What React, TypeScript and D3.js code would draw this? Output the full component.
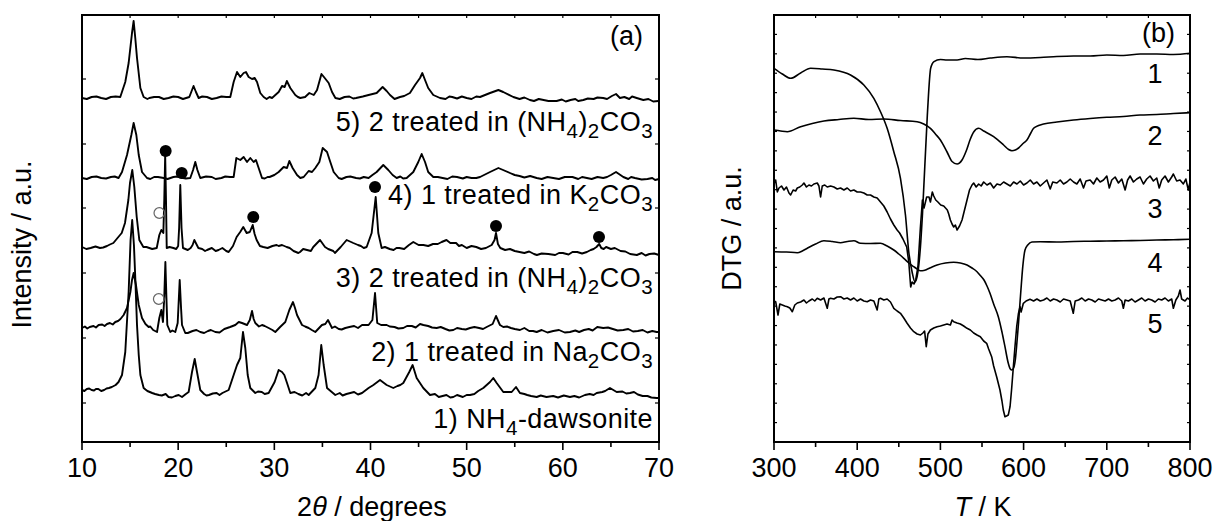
import React from "react";
import * as d3 from "d3";

type P = [number, number];

// ---------- (a) XRD patterns: [2theta, intensity above own baseline] ----------
const xrdOffsets = [52, 114, 194, 264, 344];
const xrdLabels = [
  "1) NH_{4}-dawsonite",
  "2) 1 treated in Na_{2}CO_{3}",
  "3) 2 treated in (NH_{4})_{2}CO_{3}",
  "4) 1 treated in K_{2}CO_{3}",
  "5) 2 treated in (NH_{4})_{2}CO_{3}",
];
const xrd1: P[] = [[10,0],[10.5,1],[11,0],[11.7,1],[12.3,0],[12.8,2],[13.1,3],[13.5,5],[13.8,8],[14.16,15],[14.5,38],[14.85,98],[15.05,150],[15.22,170],[15.4,145],[15.55,110],[15.72,65],[15.9,35],[16.07,15],[16.41,2],[16.8,-1],[17.3,-3],[18,-5],[19,-7],[19.7,-6],[20.4,-7],[20.8,-4],[21.09,-2],[21.44,18],[21.72,31],[21.96,18],[22.3,0],[22.7,-4],[23.2,-5],[24,-3],[24.6,-3],[25.25,0],[25.77,15],[26.12,25],[26.46,32],[26.74,58],[26.98,42],[27.23,15],[27.5,2],[28.02,-3],[28.7,-2],[29.41,-3],[30.03,8],[30.45,20],[30.8,18],[31.04,15],[31.32,7],[31.66,-3],[32.5,-4],[33.57,-5],[34.26,2],[34.6,15],[34.88,45],[35.13,25],[35.48,2],[36.34,-5],[37.5,-4],[38.3,-2],[39.12,-3],[39.8,2],[40.3,5],[40.99,10],[41.68,5],[42.37,2],[43.41,7],[44.03,18],[44.38,25],[44.8,12],[45.49,2],[46.19,-5],[47.5,-6],[48.61,-7],[50.35,-5],[51.2,-1],[51.73,2],[52.43,8],[52.77,12],[53.12,7],[53.81,-2],[54.68,-2],[55.13,3],[55.54,-3],[56.3,-5],[57.28,-7],[59,-6],[60.74,-7],[62.3,-5],[63.52,-3],[64.4,-1],[64.9,2],[65.6,-2],[66.98,-3],[68.3,-6],[69.76,-8],[70,-8],
  [10.25,-1],[10.75,1.5],[11.25,-0.5],[11.45,1],[12.0,-1],[12.55,1.5],[16.6,0.5],[17.05,-2],[17.6,-4],[18.3,-5.5],[18.7,-4],[19.35,-7.5],[20.05,-5],[22.5,-2],[22.95,-5.5],[23.6,-3.5],[24.3,-5],[28.3,-1.5],[29.0,-4],[32.1,-2],[32.9,-5.5],[33.3,-3],[36.8,-3],[37.1,-5.5],[37.9,-3],[38.7,-4.5],[42.8,4],[43.1,5],[46.7,-4],[47.1,-7],[47.9,-5],[48.3,-7.5],[49.0,-5],[49.6,-7],[50.0,-5],[50.8,-4],[56.0,-4],[56.7,-6],[57.7,-5.5],[58.3,-7],[59.5,-7.5],[60.1,-5.5],[61.2,-6],[61.7,-7.5],[62.8,-4],[63.2,-5],[64.1,-2],[66.2,-1.5],[66.6,-3.5],[67.4,-2],[67.8,-4.5],[68.8,-6],[69.2,-7.5]];
const xrd2: P[] = [[10,0],[10.8,1],[11.73,3],[12.6,4],[13.46,6],[14.0,9],[14.33,13],[14.68,20],[15.03,36],[15.2,48],[15.37,55],[15.61,43],[15.9,23],[16.24,10],[16.6,4],[16.93,1],[17.4,-2],[17.8,-4],[18.04,10],[18.25,18],[18.42,6],[18.55,30],[18.67,66],[18.78,30],[18.87,3],[19.18,-4],[19.7,-4],[19.95,5],[20.16,48],[20.3,20],[20.4,3],[20.74,-5],[21.5,-3],[22.3,-4],[23.1,-3],[23.86,-4],[24.8,-1],[25.4,1],[25.94,3],[26.3,6],[26.64,5],[27.16,3],[27.45,8],[27.68,17],[27.85,9],[28.02,5],[28.72,3],[29.41,0],[30.1,-4],[30.6,1],[31.14,6],[31.56,18],[31.94,26],[32.15,20],[32.36,13],[32.88,3],[33.57,0],[34.26,-4],[34.95,3],[35.3,4],[35.58,8],[36.0,0],[36.7,-1],[37.38,0],[38.3,2],[39.12,3],[39.8,3],[40.2,8],[40.47,35],[40.7,5],[41.1,3],[41.68,3],[42.5,1],[43.41,0],[44.3,2],[45.15,4],[46.0,2],[46.88,0],[47.8,-1],[48.61,-2],[49.5,-1],[50.35,0],[51.3,0],[52.08,1],[52.7,4],[53.05,12],[53.46,3],[53.81,1],[54.6,0],[55.54,-2],[56.5,-3],[57.28,-4],[59,-3],[60.74,-4],[62.2,-2],[63.58,1],[64.2,0],[65.2,-1],[66.29,-2],[67.8,-3],[69.76,-4],[70,-4],
  [10.3,1.5],[10.55,-0.5],[11.2,2],[11.45,0.5],[12.1,3.5],[12.35,2],[12.9,5],[13.2,3.5],[13.75,7],[17.1,1.5],[17.6,-3],[19.4,-2.5],[21.0,-5],[21.9,-2],[22.7,-5],[23.4,-2],[24.3,-4.5],[28.4,1.5],[29.0,2],[29.8,-2],[33.2,1.5],[33.9,-2],[36.3,1.5],[37.0,-1.5],[37.8,1],[38.7,0],[42.0,1.5],[42.9,-0.5],[43.8,2],[44.7,0.5],[45.5,3],[46.4,0.5],[47.3,1],[48.2,-2.5],[49.0,0],[49.9,-1.5],[50.8,1],[51.7,-1],[54.2,1.5],[55.0,-1],[56.0,0],[56.9,-3],[57.8,-2],[58.4,-4.5],[59.6,-2],[60.2,-4.5],[61.3,-2.5],[61.7,-4],[62.7,-1],[63.1,-2.5],[64.7,0.5],[65.7,-2.5],[66.8,-1],[67.3,-3.5],[68.3,-2],[68.8,-4.5],[69.3,-3]];
const xrd3: P[] = [[10,1],[10.9,0],[11.87,0],[12.6,2],[13.26,5],[13.78,11],[14.13,15],[14.47,25],[14.82,48],[14.99,65],[15.23,78],[15.44,61],[15.69,31],[15.96,8],[16.38,1],[17.0,0],[17.77,0],[18.04,13],[18.25,18],[18.46,15],[18.56,50],[18.65,93],[18.74,45],[18.81,0],[19.5,0],[20.0,2],[20.1,20],[20.22,63],[20.35,20],[20.5,0],[21.0,-2],[21.3,0],[21.68,8],[22.1,0],[23.0,-2],[24.2,-2],[25.25,-4],[25.7,2],[26.08,11],[26.45,16],[26.77,21],[27.12,15],[27.45,16],[27.75,23],[27.95,14],[28.16,8],[28.85,1],[29.8,2],[30.24,3],[30.45,2],[31.28,1],[32.0,-3],[32.5,-5],[32.67,-4],[33.4,-2],[34.05,1],[34.75,8],[35.27,1],[36.13,-3],[36.3,-5],[36.9,1],[37.52,8],[38.21,5],[39.0,2],[39.6,1],[40.12,15],[40.54,51],[40.81,15],[41.16,0],[42.0,-1],[43.0,0],[44.0,3],[44.45,6],[45.0,3],[45.5,3],[46.5,4],[47.4,6],[47.9,8],[48.3,5],[48.9,5],[49.5,3],[50.0,0],[51.0,1],[52.0,0],[52.6,3],[52.9,8],[53.05,15],[53.25,4],[53.5,0],[54.0,-2],[55.0,-3],[56.0,-5],[57.3,-7],[58.5,-6],[60.0,-5],[61.5,-4],[62.5,-4],[63.5,1],[63.78,4],[64.0,0],[64.5,1],[65.0,-1],[66.0,-3],[67.7,-7],[69.0,-6],[70,-7],
  [10.45,-1],[11.4,1.5],[12.2,0.5],[12.9,3.5],[16.7,1],[17.3,-1],[19.1,1],[19.8,-1],[21.5,3],[22.5,-1],[22.8,-3],[23.5,0],[23.9,-3],[24.6,0],[25.0,-3],[28.5,2],[29.3,0],[30.8,3],[31.6,0],[33.0,-1],[33.8,-3],[35.6,-1],[36.6,-2],[38.7,3],[39.3,0],[41.5,1],[42.4,-2],[42.7,0],[43.5,-1],[46.0,2],[47.0,4],[49.2,2],[50.5,2],[51.5,-1],[54.5,-1],[55.5,-4],[56.5,-3.5],[57.0,-6],[57.8,-5.5],[59.2,-7],[59.6,-5],[60.6,-6.5],[61.0,-4],[62.0,-5.5],[62.9,-2],[63.2,-1],[64.25,-1],[65.4,0],[66.5,-3.5],[67.0,-6],[68.2,-5],[68.6,-7.5],[69.5,-5.5]];
const xrd4: P[] = [[10,0],[11,1],[12,0],[13,1],[13.8,0],[14.16,6],[14.68,23],[15.13,43],[15.37,55],[15.65,43],[15.9,23],[16.24,6],[16.76,0],[17.5,1],[18.5,0],[19.5,1],[20.5,0],[21.26,0],[21.55,8],[21.78,16],[22.0,8],[22.3,0],[23.5,1],[24.5,0],[25.4,1],[25.77,1],[26.05,20],[26.46,18],[26.81,21],[27.16,16],[27.5,20],[27.85,16],[28.09,18],[28.37,10],[28.72,0],[29.5,1],[30.0,3],[30.45,6],[30.97,11],[31.32,10],[31.56,17],[31.9,10],[32.36,3],[33.05,1],[33.57,7],[33.92,6],[34.26,10],[34.68,16],[35.03,30],[35.48,26],[35.82,16],[36.17,6],[36.69,0],[37.5,1],[38.5,0],[39.8,0],[40.2,3],[40.64,6],[41.33,13],[41.85,8],[42.3,3],[42.72,0],[43.76,0],[44.45,6],[44.97,16],[45.32,24],[45.67,16],[46.0,6],[46.53,1],[47.5,0],[49,1],[50.5,0],[51.39,1],[52.43,6],[53.3,10],[54.5,5],[55.5,2],[57.28,0],[59,0],[61,1],[62.5,0],[64.2,0],[65.0,3],[65.53,6],[66.29,1],[67.5,0],[68.8,-1],[70,-1],
  [10.5,-1],[11.5,1.5],[12.5,-0.5],[13.4,1.5],[17.1,-1],[17.9,1],[18.9,-1],[19.9,1.5],[20.8,-0.5],[22.9,1.5],[23.9,-1],[24.9,1.5],[29.0,-0.5],[29.3,1],[32.7,0],[37.0,-1],[37.9,1.5],[38.9,-0.5],[39.3,1],[43.1,1.5],[43.4,-0.5],[47.0,1],[48.0,-1],[48.5,1.5],[49.6,-0.5],[50.0,1],[51.0,0],[55.0,3],[56.0,0.5],[56.6,2],[57.8,-1],[58.4,1],[59.6,-1],[60.2,1],[61.6,-1],[62.0,1],[63.0,-1],[63.6,1],[64.6,1],[66.8,-1],[67.1,1],[68.2,-1.5],[69.3,0],[69.6,-2]];
const xrd5: P[] = [[10,0],[11,1],[12,0],[13,1],[13.98,1],[14.5,16],[14.85,35],[15.2,65],[15.37,77],[15.54,60],[15.72,40],[16.07,10],[16.41,1],[17,0],[18,1],[19,0],[20,1],[21.16,1],[21.6,12],[21.85,6],[22.13,0],[23,1],[24,0],[25,1],[25.42,1],[25.77,16],[26.12,26],[26.46,21],[26.81,25],[27.05,26],[27.33,21],[27.68,19],[27.96,20],[28.2,16],[28.54,5],[28.89,1],[29.76,0],[30.45,6],[30.8,12],[31.08,11],[31.3,17],[31.66,10],[32.18,3],[32.7,0],[33.2,1],[33.64,5],[34.1,3],[34.44,8],[34.9,24],[35.24,20],[35.65,15],[36.0,6],[36.35,0],[37.3,1],[38.5,0],[39.8,3],[40.64,5],[41.26,11],[41.68,7],[42.03,3],[43.07,1],[44.1,5],[44.63,13],[45.15,20],[45.39,25],[45.67,18],[46.0,10],[46.53,3],[47.23,0],[48.5,1],[50,0],[51.39,1],[52.43,5],[53.3,8],[53.8,6],[54.85,1],[56.58,-2],[58,-2],[59.36,-3],[60.8,-2],[62.13,-2],[63.2,-1],[64.2,0],[65.1,2],[65.53,4],[65.94,0],[67.68,0],[68.37,-2],[69.93,-3],[70,-3],
  [10.5,-1],[11.5,1.5],[12.5,-1],[13.5,1.5],[16.8,-1],[17.5,1],[18.5,-1],[19.5,1.5],[20.5,-1],[22.5,1.5],[23.5,-1],[24.5,1.5],[29.2,-1],[29.5,1],[32.45,1],[36.8,-1],[37.8,1.5],[38.2,-0.5],[39.2,1.5],[42.5,-1],[43.5,2],[47.8,-1],[48.2,1.5],[49.0,-0.5],[49.5,1.5],[50.5,-1],[51.0,1.5],[55.5,-1],[56.0,0.5],[57.0,-3],[57.5,-1],[58.5,-3],[59.9,-1.5],[60.3,-3.5],[61.3,-1],[61.6,-3],[62.6,-0.5],[63.6,0.5],[64.6,-1],[66.4,1],[66.9,-1],[67.2,1.5],[68.9,-1],[69.4,-3.5]];
const xrdSeries = [xrd1, xrd2, xrd3, xrd4, xrd5];

// markers: filled = reflections marked on pattern 3, open = extra reflection
const filledMarks: P[] = [[18.7,291],[20.37,269],[27.81,225],[40.47,255],[53.05,216],[63.76,205]];
const openMarks: P[] = [[18.04,229],[17.98,143]];

// ---------- (b) DTG curves: [T/K, DTG a.u.] ----------
const dtg1: P[] = [[300,373.7],[310,368],[320,363.7],[332,369],[344,373.7],[358,373],[372,372],[392,367],[408,357],[420,343.7],[428,330.3],[436,313.7],[444,290.3],[452,263.7],[458,227],[462,190],[466,170],[469.5,160],[473,170],[476,195],[478.4,227],[484.3,327],[488.3,373.7],[492.3,380.3],[500,382.5],[508,382],[520,382],[530,383.5],[545,382.5],[560,384],[580,385.3],[600,384],[620,384.5],[640,385.5],[660,386],[680,386],[700,387],[720,386.5],[740,388],[760,388],[780,387.5],[800,388.7]];
const dtg2: P[] = [[300,312],[308,311],[316,310.3],[332,315.3],[346,318.5],[360,321],[378,322.5],[396,323.7],[414,322.5],[432,323],[452,321.5],[472,320.3],[480,318],[488,313.7],[494,308],[500,302],[508,290],[514,280.5],[520,278],[526,282],[531,291],[536,303],[540,310],[546,313.7],[552,311],[564,305.3],[576,297],[582,292.5],[586,291.3],[590,292],[594,294],[600,299],[604,302],[608,308],[612,313.7],[618,316.5],[624,318],[640,320],[660,322],[680,323.5],[700,324.7],[720,325.5],[740,327],[760,327.5],[780,328.5],[800,329.3]];
const dtg3: P[] = [[300,258],[302,262],[304,250],[306,254],[309,256],[312,252],[315,255],[318,249],[320,247],[323,252],[326,251],[328,254],[331,255],[334,257],[336,259],[339,255],[342,257],[345,256],[348,258],[352,259],[354,256],[356,245],[358,256],[361,257],[364,255],[368,256],[372,255],[376,253],[380,254],[384,252],[388,254],[392,251],[396,252],[400,250],[404,250],[408,249],[412,247],[416,247],[420,245],[424,244],[428,240],[432,236],[436,230],[440,223],[444,217],[448,212],[451,209],[455,203],[459.5,195],[462,180],[464.3,155],[466,160],[468.3,158],[470.3,162],[473,175],[476,215],[478.4,242],[480.3,234],[483.5,245],[486.3,245],[488,240],[490.3,250],[492,246],[494.4,242],[497,240],[500.4,237],[504,236],[508.3,232],[510,228],[512,222],[514,218],[516,215],[518,217],[520,212],[523,216],[526,222],[529,232],[532,242],[535,252],[538,257],[540,259],[543,255],[546,258],[549,256],[552,260],[556,257],[560,259],[564,254],[568,258],[572,257],[576,260],[580,258],[584,256],[588,260],[592,258],[596,261],[600,257],[604,259],[608,262],[612,258],[616,260],[620,256],[624,259],[628,262],[632,253],[635,260],[640,259],[644,262],[648,258],[652,260],[656,263],[660,260],[664,258],[668,263],[672,254],[675,261],[680,262],[684,258],[688,264],[692,260],[696,262],[700,266],[703,254],[706,262],[710,265],[714,259],[718,263],[722,252],[725,262],[728,266],[732,260],[736,263],[740,265],[744,258],[748,263],[752,266],[756,261],[760,264],[763,254],[766,262],[770,266],[774,260],[778,265],[780,268],[784,261],[788,262],[792,258],[795,263],[798,252],[800,260]];
const dtg4: P[] = [[300,190.3],[315,190],[328,189.3],[334,191],[340,193.7],[350,198],[360,201.3],[370,200.5],[380,199.3],[388,200.5],[396,201.3],[404,198.7],[416,198.5],[428,198.7],[436,196],[444,192],[450,188],[456,183.7],[462,179],[468,175.3],[472,173],[476,171.3],[480,171.5],[484,172.7],[490,175],[496,177],[506,179],[516,179.7],[524,179],[532,177],[538,174],[544,170.3],[548,166.5],[552.4,162],[556,156],[559.6,148.7],[564,138],[569.6,125.3],[574,110],[577.6,95.3],[581.6,78.7],[584,73],[585.9,72],[588,74],[590,82],[591.9,98.7],[594,120],[595.9,142],[597.5,160],[599,175.3],[601.7,192],[605,197],[610,200],[620,200.3],[640,200],[660,200.5],[680,200.8],[700,201],[720,201.3],[740,201.5],[760,202],[780,202.3],[800,202.7]];
const dtg5: P[] = [[300,141],[302,140.3],[304.8,127],[307,138],[310,137],[313,136],[316,135.3],[319,134],[322,130.3],[325,137],[328,139],[332,140],[336,142],[339,139],[342,141],[346,143],[349,141],[352,143.7],[356,142],[360,144],[364,133.7],[366,143],[368,143.7],[372,143],[376,145],[380,145.3],[384,143],[388,144],[392,142],[396,144],[400,141],[404,143],[408,141],[412,140.3],[416,142],[420,141],[424,132],[426,143],[428,143.7],[432,142],[436,143],[440,140],[444,133.7],[448,131],[452,128.7],[456,124],[460,118.7],[464,114],[468,110.3],[472,108],[476,107],[479,109],[481,111],[483,95.3],[485,108],[488,112],[492,114],[496,115.3],[500,116],[504,117],[508,118],[512,117],[514,122],[516,120.3],[520,119],[524,118],[528,116],[532,113.7],[536,112],[540,109],[544,107],[548,105.3],[552,101],[555.6,98.7],[558,93],[561.6,85.3],[564,76],[567.6,65.3],[571.6,52],[574,41],[575.6,32],[577.6,25.3],[579.5,26],[581.6,27],[583.7,35.3],[585.5,52],[587.7,75.3],[589.7,96],[591.7,115.3],[593.7,128],[595.7,135.3],[597,130],[599.7,138.7],[603,141],[607.7,142.7],[612,141],[616,143],[620,141],[624,142],[628,144],[632,141],[636,143],[640,142],[644,140],[648,143],[652,142],[656,141],[659.7,128.7],[662,141],[666,142],[670,144],[674,141],[678,143],[682,142],[686,140],[690,143],[694,142],[698,141],[702,143],[706,141],[710,142],[714,144],[718,141],[719.9,133.7],[722,142],[726,141],[730,143],[734,140],[738,142],[742,144],[746,141],[750,143],[754,142],[758,140],[762,143],[766,142],[770,144],[774,141],[778,143],[780,133.7],[783,142],[786,146],[788,152],[790,143],[794,141],[797,144],[800,142]];
const dtgSeries = [dtg1, dtg2, dtg3, dtg4, dtg5];
const dtgSmooth = [true, true, false, true, false];
const dtgLabels = ["1", "2", "3", "4", "5"];

const xrdMajor = [10, 20, 30, 40, 50, 60, 70];
const xrdMinor = [15, 25, 35, 45, 55, 65];
const xrdYTicks = [39, 104, 169, 234, 298, 363];
const tMajor = [300, 400, 500, 600, 700, 800];
const tMinor = [350, 450, 550, 650, 750];
const dtgYTicks = d3.range(1, 22).map((k) => (k * 427) / 22);

const FONT = "'Liberation Sans', Arial, Helvetica, sans-serif";
const FS = 27;

function Chem({ s, x, y, anchor }: { s: string; x: number; y: number; anchor: string }) {
  const parts: { t: string; sub: boolean }[] = [];
  const re = /_\{([^}]*)\}/g;
  let last = 0;
  let m: RegExpExecArray | null;
  while ((m = re.exec(s))) {
    if (m.index > last) parts.push({ t: s.slice(last, m.index), sub: false });
    parts.push({ t: m[1], sub: true });
    last = m.index + m[0].length;
  }
  if (last < s.length) parts.push({ t: s.slice(last), sub: false });
  let cur = 0;
  const SH = 7;
  return (
    <text x={x} y={y} textAnchor={anchor} fontFamily={FONT} fontSize={FS} fill="#000" letterSpacing={0.45}>
      {parts.map((p, i) => {
        const target = p.sub ? SH : 0;
        const dy = target - cur;
        cur = target;
        return (
          <tspan key={i} dy={dy} fontSize={p.sub ? FS * 0.76 : FS}>
            {p.t}
          </tspan>
        );
      })}
    </text>
  );
}

const byX = (a: P, b: P) => a[0] - b[0];

export default function App() {
  const xL = d3.scaleLinear().domain([10, 70]).range([82, 659]);
  const yL = d3.scaleLinear().domain([0, 427]).range([442, 15]);
  const xR = d3.scaleLinear().domain([300, 800]).range([774, 1190]);
  const yR = d3.scaleLinear().domain([0, 427]).range([442, 15]);

  const frameL = { x0: xL(10), x1: xL(70), y0: yL(427), y1: yL(0) };
  const frameR = { x0: xR(300), x1: xR(800), y0: yR(427), y1: yR(0) };

  const labelBase = [428, 361, 287, 204, 131];
  const dtgLabelBase = [83, 145, 218, 272, 333];

  return (
    <svg
      width={1213}
      height={521}
      style={{ position: "absolute", left: 0, top: 0, background: "#fff" }}
    >
      <rect x={0} y={0} width={1213} height={521} fill="#fff" />
      {/* ---------- panel (a) ---------- */}
      <g>
        {xrdSeries.map((s, i) => {
          const line = d3
            .line<P>()
            .x((d) => xL(d[0]))
            .y((d) => yL(d[1] + xrdOffsets[i]));
          return (
            <path key={i} d={line([...s].sort(byX)) || ""} fill="none" stroke="#000" strokeWidth={1.9} strokeLinejoin="round" />
          );
        })}
        {filledMarks.map((d, i) => (
          <circle key={i} cx={xL(d[0])} cy={yL(d[1])} r={6} fill="#000" />
        ))}
        {openMarks.map((d, i) => (
          <circle key={i} cx={xL(d[0])} cy={yL(d[1])} r={5.3} fill="none" stroke="#666" strokeWidth={1.2} />
        ))}
        {xrdLabels.map((l, i) => (
          <Chem key={i} s={l} x={653} y={labelBase[i]} anchor="end" />
        ))}
        <text x={643} y={45} textAnchor="end" fontFamily={FONT} fontSize={FS}>(a)</text>
        {xrdMajor.map((t) => (
          <g key={"M" + t}>
            <line x1={xL(t)} x2={xL(t)} y1={frameL.y1} y2={frameL.y1 + 8} stroke="#000" strokeWidth={1.6} />
            <line x1={xL(t)} x2={xL(t)} y1={frameL.y0} y2={frameL.y0 + 3} stroke="#000" strokeWidth={1.2} />
            <text x={xL(t)} y={477} textAnchor="middle" fontFamily={FONT} fontSize={FS}>{t}</text>
          </g>
        ))}
        {xrdMinor.map((t) => (
          <g key={"m" + t}>
            <line x1={xL(t)} x2={xL(t)} y1={frameL.y1} y2={frameL.y1 + 5} stroke="#000" strokeWidth={1.6} />
            <line x1={xL(t)} x2={xL(t)} y1={frameL.y0} y2={frameL.y0 + 3} stroke="#000" strokeWidth={1.2} />
          </g>
        ))}
        {xrdYTicks.map((t) => (
          <g key={"y" + t}>
            <line x1={frameL.x0} x2={frameL.x0 + 4} y1={yL(t)} y2={yL(t)} stroke="#000" strokeWidth={1.2} />
            <line x1={frameL.x1} x2={frameL.x1 - 4} y1={yL(t)} y2={yL(t)} stroke="#000" strokeWidth={1.2} />
          </g>
        ))}
        <rect x={frameL.x0} y={frameL.y0} width={frameL.x1 - frameL.x0} height={frameL.y1 - frameL.y0} fill="none" stroke="#000" strokeWidth={2} />
        <text x={372} y={516} textAnchor="middle" fontFamily={FONT} fontSize={FS}>
          2<tspan fontStyle="italic">θ</tspan> / degrees
        </text>
        <text transform={`translate(31,${(frameL.y0 + frameL.y1) / 2 + 16}) rotate(-90)`} textAnchor="middle" fontFamily={FONT} fontSize={FS}>
          Intensity / a.u.
        </text>
      </g>

      {/* ---------- panel (b) ---------- */}
      <g>
        <defs>
          <clipPath id="clipR">
            <rect x={frameR.x0} y={frameR.y0} width={frameR.x1 - frameR.x0} height={frameR.y1 - frameR.y0} />
          </clipPath>
        </defs>
        <g clipPath="url(#clipR)">
          {dtgSeries.map((s, i) => {
            const line = d3
              .line<P>()
              .x((d) => xR(d[0]))
              .y((d) => yR(d[1]))
              .curve(dtgSmooth[i] ? d3.curveMonotoneX : d3.curveLinear);
            return (
              <path key={i} d={line(s) || ""} fill="none" stroke="#000" strokeWidth={1.6} strokeLinejoin="round" />
            );
          })}
        </g>
        {dtgLabels.map((l, i) => (
          <text key={i} x={1155} y={dtgLabelBase[i]} textAnchor="middle" fontFamily={FONT} fontSize={FS}>{l}</text>
        ))}
        <text x={1175} y={42} textAnchor="end" fontFamily={FONT} fontSize={FS}>(b)</text>
        {tMajor.map((t) => (
          <g key={"M" + t}>
            <line x1={xR(t)} x2={xR(t)} y1={frameR.y1} y2={frameR.y1 + 8} stroke="#000" strokeWidth={1.6} />
            <line x1={xR(t)} x2={xR(t)} y1={frameR.y0} y2={frameR.y0 + 3} stroke="#000" strokeWidth={1.2} />
            <text x={xR(t)} y={477} textAnchor="middle" fontFamily={FONT} fontSize={FS}>{t}</text>
          </g>
        ))}
        {tMinor.map((t) => (
          <g key={"m" + t}>
            <line x1={xR(t)} x2={xR(t)} y1={frameR.y1} y2={frameR.y1 + 5} stroke="#000" strokeWidth={1.6} />
            <line x1={xR(t)} x2={xR(t)} y1={frameR.y0} y2={frameR.y0 + 3} stroke="#000" strokeWidth={1.2} />
          </g>
        ))}
        {dtgYTicks.map((t, i) => (
          <g key={"y" + i}>
            <line x1={frameR.x0} x2={frameR.x0 + 3} y1={yR(t)} y2={yR(t)} stroke="#000" strokeWidth={1.2} />
            <line x1={frameR.x1} x2={frameR.x1 - 3} y1={yR(t)} y2={yR(t)} stroke="#000" strokeWidth={1.2} />
          </g>
        ))}
        <rect x={frameR.x0} y={frameR.y0} width={frameR.x1 - frameR.x0} height={frameR.y1 - frameR.y0} fill="none" stroke="#000" strokeWidth={2} />
        <text x={983} y={516} textAnchor="middle" fontFamily={FONT} fontSize={FS}>
          <tspan fontStyle="italic">T</tspan> / K
        </text>
        <text transform={`translate(741,${(frameR.y0 + frameR.y1) / 2}) rotate(-90)`} textAnchor="middle" fontFamily={FONT} fontSize={FS}>
          DTG / a.u.
        </text>
      </g>
    </svg>
  );
}
